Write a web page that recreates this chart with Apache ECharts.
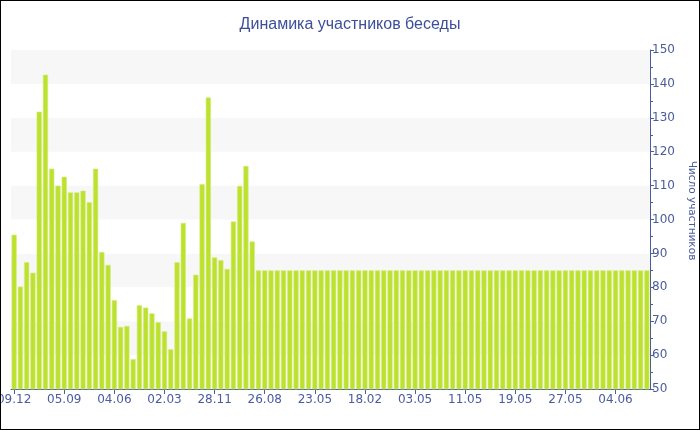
<!DOCTYPE html>
<html><head><meta charset="utf-8">
<script src="https://cdn.jsdelivr.net/npm/echarts@6/dist/echarts.min.js"></script>
<style>
html,body{margin:0;padding:0;background:#fff;}
#c{width:700px;height:430px;box-sizing:border-box;border:1px solid #000;}
</style></head><body>
<div id="c"></div>
<script>
const title = 'Динамика участников беседы';
const yAxisName = 'Число участников';
const categories = [
 '09.12','12.01','15.02','21.03','24.04','28.05','01.07','04.08',
 '05.09','09.10','12.11','16.12','19.01','22.02','28.03','01.05',
 '04.06','08.07','11.08','14.09','18.10','21.11','25.12','28.01',
 '02.03','05.04','09.05','12.06','16.07','19.08','22.09','26.10',
 '28.11','01.01','04.02','10.03','13.04','17.05','20.06','24.07',
 '26.08','29.09','02.11','06.12','09.01','12.02','18.03','21.04',
 '23.05','26.06','30.07','02.09','06.10','09.11','13.12','16.01',
 '18.02','27.02','08.03','17.03','26.03','04.04','13.04','22.04',
 '03.05','04.05','05.05','06.05','07.05','08.05','09.05','10.05',
 '11.05','12.05','13.05','14.05','15.05','16.05','17.05','18.05',
 '19.05','20.05','21.05','22.05','23.05','24.05','25.05','26.05',
 '27.05','28.05','29.05','30.05','31.05','01.06','02.06','03.06',
 '04.06','05.06','06.06','07.06','08.06','09.06'
];
const participants = [
 95.5, 80.2, 87.4, 84.3, 131.8, 142.7, 115, 110,
 112.6, 108, 108, 108.5, 105.1, 115, 90.4, 86.6,
 76.2, 68.3, 68.6, 58.8, 74.7, 74, 72.3, 69.7,
 67, 61.7, 87.4, 99, 70.8, 83.7, 110.4, 136,
 88.8, 88, 85.4, 99.4, 109.9, 115.8, 93.5, 85,
 85, 85, 85, 85, 85, 85, 85, 85,
 85, 85, 85, 85, 85, 85, 85, 85,
 85, 85, 85, 85, 85, 85, 85, 85,
 85, 85, 85, 85, 85, 85, 85, 85,
 85, 85, 85, 85, 85, 85, 85, 85,
 85, 85, 85, 85, 85, 85, 85, 85,
 85, 85, 85, 85, 85, 85, 85, 85,
 85, 85, 85, 85, 85, 85
];
const yMin = 50, yMax = 150, yStep = 10;

const axisColor = '#4a5b9e';
const chart = echarts.init(document.getElementById('c'), null, {renderer:'canvas'});
chart.setOption({
  animation: false,
  backgroundColor: '#fff',
  title: {
    text: title, left: 'center', top: 11,
    textStyle: {fontFamily: 'Liberation Sans', fontSize: 16, fontWeight: 'normal', color: '#3d4f9a'}
  },
  grid: {left: 10, right: 49, top: 49, bottom: 40, containLabel: false, outerBoundsMode: 'none'},
  xAxis: {
    type: 'category', data: categories, boundaryGap: true,
    axisLine: {lineStyle: {color: axisColor, width: 1}},
    axisTick: {show: true, interval: 7, alignWithLabel: true, length: 5, lineStyle: {color: axisColor}},
    axisLabel: {interval: 7, color: axisColor, fontFamily: 'DejaVu Sans', fontSize: 12, margin: 5, hideOverlap: false},
    splitLine: {show: false}
  },
  yAxis: {
    type: 'value', position: 'right', min: yMin, max: yMax, interval: yStep,
    name: yAxisName, nameLocation: 'middle', nameRotate: -90, nameGap: 35,
    nameTextStyle: {color: axisColor, fontFamily: 'DejaVu Sans', fontSize: 10.5, padding: [0, 18, 0, 0]},
    axisLine: {show: true, lineStyle: {color: axisColor, width: 1}},
    axisTick: {show: true, length: 4, lineStyle: {color: axisColor}},
    minorTick: {show: true, splitNumber: 2, length: 3, lineStyle: {color: axisColor}},
    axisLabel: {color: axisColor, fontFamily: 'DejaVu Sans', fontSize: 12, margin: 2},
    splitLine: {show: false},
    splitArea: {show: true, areaStyle: {color: ['#ffffff', '#f7f7f7']}}
  },
  series: [{
    type: 'bar', data: participants, barCategoryGap: '18%',
    itemStyle: {color: '#bde12f', borderColor: '#d4ec7a', borderWidth: 0.6}
  }]
});
</script>
</body></html>
